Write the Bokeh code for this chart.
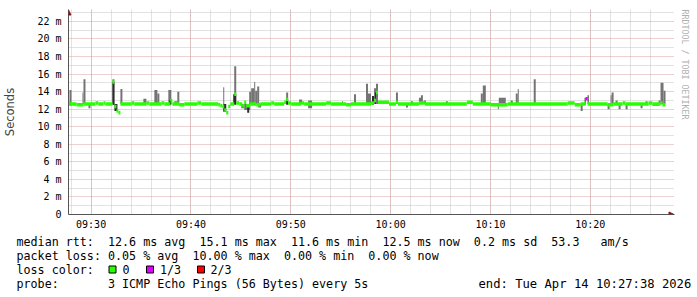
from datetime import datetime, timedelta
from bokeh.plotting import figure
from bokeh.layouts import column, row
from bokeh.models import Range1d, FixedTicker, DatetimeTickFormatter, Arrow, NormalHead, Title
from bokeh.core.properties import value
from bokeh.embed import file_html
from bokeh.resources import INLINE

# ---------------- data ----------------
window_start = "2026-04-14 09:27:44"
window_seconds = 3642

median_sec = [0, 48, 90, 162, 180, 210, 222, 264, 276, 288, 300, 312, 378, 396, 468, 486,
              558, 576, 612, 624, 666, 696, 774, 798, 900, 912, 924, 936, 948, 960, 972, 996,
              1008, 1026, 1044, 1056, 1068, 1092, 1128, 1152, 1218, 1236, 1296, 1308, 1320, 1338,
              1398, 1416, 1548, 1578, 1668, 1698, 1818, 1836, 1848, 1860, 1926, 1968, 1980, 2106,
              2142, 2394, 2430, 2538, 2640, 3000, 3042, 3078, 3108, 3120, 3240, 3276, 3330, 3348,
              3486, 3510, 3558, 3570, 3588]
median_ms = [12.6, 12.5, 12.6, 12.7, 12.6, 12.7, 12.6, 15.1, 12.3, 11.8, 11.6, 12.6, 12.7, 12.6, 12.7, 12.6,
             12.7, 12.6, 13.0, 12.6, 12.5, 12.6, 12.7, 12.6, 12.5, 12.4, 12.3, 11.9, 11.6, 12.3, 12.6, 13.7,
             12.7, 12.6, 12.4, 12.8, 12.4, 12.6, 12.5, 12.6, 12.7, 12.6, 12.8, 13.1, 12.7, 12.6,
             12.7, 12.6, 12.7, 12.6, 12.5, 12.6, 12.7, 13.0, 13.9, 12.8, 12.6, 12.8, 12.6, 12.7,
             12.6, 12.8, 12.6, 12.5, 12.6, 12.7, 12.5, 12.6, 13.2, 12.6, 12.5, 12.6, 12.7, 12.6,
             12.7, 12.6, 12.7, 12.5, 12.5]

loss_start_sec = [3108]
loss_end_sec = [3120]
loss_level = ["1/3"]

smoke_start = [6, 84, 90, 120, 264, 312, 450, 516, 534, 600, 636, 654, 666, 930, 996, 1038, 1056,
               1086, 1098, 1116, 1122, 1134, 1140, 1308, 1386, 1440, 1644, 1716, 1788, 1800, 1836,
               1848, 1968, 2028, 2058, 2106, 2118, 2136, 2268, 2478, 2490, 2580, 2586, 2658, 2688,
               2700, 2796, 3078, 3240, 3258, 3264, 3288, 3306, 3348, 3438, 3468, 3510, 3546, 3558, 3576]
smoke_end = [18, 90, 102, 132, 276, 324, 468, 534, 546, 618, 654, 666, 696, 936, 1008, 1056, 1092,
             1098, 1116, 1122, 1134, 1146, 1158, 1320, 1404, 1464, 1650, 1728, 1800, 1818, 1848,
             1860, 1980, 2040, 2070, 2124, 2130, 2148, 2280, 2490, 2508, 2586, 2628, 2670, 2700,
             2706, 2808, 3090, 3252, 3264, 3276, 3300, 3318, 3360, 3450, 3480, 3546, 3558, 3576, 3588]
smoke_lo = [12.4, 12.6, 12.6, 12.1, 12.5, 12.6, 12.6, 12.6, 12.6, 12.6, 12.6, 12.6, 12.4, 12.6, 12.6, 12.1, 11.9,
            12.6, 12.6, 12.6, 12.6, 12.6, 12.2, 12.6, 12.6, 12.1, 12.6, 12.6, 12.6, 12.6, 12.6,
            12.6, 12.6, 12.2, 12.6, 12.6, 12.6, 12.6, 12.6, 12.6, 12.6, 12.0, 12.6, 12.6, 12.6,
            12.6, 12.6, 11.8, 12.0, 12.6, 12.6, 12.6, 12.0, 12.0, 12.1, 12.6, 12.4, 12.6, 12.6, 12.6]
smoke_hi = [14.2, 13.9, 15.4, 12.6, 15.4, 14.3, 13.2, 14.2, 13.8, 14.2, 12.9, 14.0, 12.6, 14.5, 16.9, 12.6, 12.6,
            14.0, 14.4, 15.1, 14.1, 14.6, 12.6, 13.9, 13.1, 13.0, 12.9, 13.7, 14.9, 13.8, 14.4,
            14.9, 13.9, 12.6, 12.9, 13.3, 13.6, 13.0, 12.9, 13.8, 14.7, 12.6, 13.3, 13.0, 13.8,
            14.3, 15.4, 12.6, 12.6, 13.6, 13.9, 13.0, 12.6, 12.6, 12.6, 12.9, 12.6, 13.0, 15.0, 14.1]

dark_start = [264, 276, 606, 930, 990, 1074, 1308, 1824, 1842, 3102, 3120]
dark_end = [276, 294, 618, 948, 1008, 1086, 1320, 1836, 1848, 3108, 3126]
dark_lo = [12.5, 11.8, 12.5, 11.7, 12.5, 11.6, 12.5, 12.5, 12.6, 12.5, 12.6]
dark_hi = [15.1, 12.6, 13.0, 12.6, 13.7, 12.5, 13.1, 13.5, 13.9, 13.3, 13.6]

y_ticks = [0, 2, 4, 6, 8, 10, 12, 14, 16, 18, 20, 22]
y_tick_labels = ["0", "2 m", "4 m", "6 m", "8 m", "10 m", "12 m", "14 m", "16 m", "18 m", "20 m", "22 m"]
x_tick_times = ["09:30", "09:40", "09:50", "10:00", "10:10", "10:20"]

loss_labels = ["0", "1/3", "2/3"]

legend_lines = [
    "median rtt:  12.6 ms avg  15.1 ms max  11.6 ms min  12.5 ms now  0.2 ms sd  53.3   am/s",
    "packet loss: 0.05 % avg  10.00 % max  0.00 % min  0.00 % now",
    "loss color:",
    "probe:       3 ICMP Echo Pings (56 Bytes) every 5s",
]
end_text = "end: Tue Apr 14 10:27:38 2026"
watermark = "RRDTOOL / TOBI OETIKER"
y_title = "Seconds"

# ---------------- styles ----------------
LOSS_COLORS = {"0": "#26ff00", "1/3": "#dd00ff", "2/3": "#ff0000"}
SMOKE = "#747474"
SMOKE_DARK = "#2c2c2c"
AXIS = "#555555"
ARROW = "#8b1010"
MGRID = "#dba0a0"
GRID = "#c4c4c4"
MONO = "DejaVu Sans Mono"
BAND = 0.2

EPOCH = datetime(1970, 1, 1)
t_start = datetime.strptime(window_start, "%Y-%m-%d %H:%M:%S")


def ms(dt):
    return (dt - EPOCH).total_seconds() * 1000.0


def sec_to_ms(s):
    return ms(t_start + timedelta(seconds=s))


t0 = ms(t_start)
t1 = sec_to_ms(window_seconds)

W, H = 697, 232
FL, FR, FT, FB = 67, 674, 9, 215
PX_PER_UNIT = 194 / 22.0
y_top = (FB - FT) / PX_PER_UNIT

p = figure(width=W, height=H, x_axis_type="datetime", output_backend="svg",
           toolbar_location=None, x_range=Range1d(t0, t1), y_range=Range1d(0, y_top),
           min_border_left=FL, min_border_right=W - FR, min_border_top=FT, min_border_bottom=H - FB)
p.background_fill_color = "white"
p.border_fill_color = "white"
p.outline_line_color = None

p.quad(left=[sec_to_ms(s) for s in smoke_start], right=[sec_to_ms(s) for s in smoke_end],
       bottom=smoke_lo, top=smoke_hi, fill_color=SMOKE, line_color=None)
p.quad(left=[sec_to_ms(s) for s in dark_start], right=[sec_to_ms(s) for s in dark_end],
       bottom=dark_lo, top=dark_hi, fill_color=SMOKE_DARK, line_color=None)

ml, mr, mb, mt, mc = [], [], [], [], []
for i in range(len(median_sec) - 1):
    s0, s1, v = median_sec[i], median_sec[i + 1], median_ms[i]
    col = LOSS_COLORS["0"]
    for ls, le, lv in zip(loss_start_sec, loss_end_sec, loss_level):
        if s0 >= ls and s1 <= le:
            col = LOSS_COLORS[lv]
    ml.append(sec_to_ms(s0)); mr.append(sec_to_ms(s1))
    mb.append(v - BAND); mt.append(v + BAND); mc.append(col)
p.quad(left=ml, right=mr, bottom=mb, top=mt, fill_color=mc, line_color=None)

day = window_start[:11]
xt = [ms(datetime.strptime(day + t, "%Y-%m-%d %H:%M")) for t in x_tick_times]
x_minor = [ms(datetime.strptime(day + "09:28", "%Y-%m-%d %H:%M") + timedelta(minutes=2 * k))
           for k in range(30)]
p.xaxis.ticker = FixedTicker(ticks=xt, minor_ticks=x_minor)
p.xaxis.formatter = DatetimeTickFormatter(minutes="%H:%M", hourmin="%H:%M", hours="%H:%M",
                                          minsec="%H:%M", seconds="%H:%M")
p.yaxis.ticker = FixedTicker(ticks=y_ticks, minor_ticks=[t + 1 for t in y_ticks])
p.yaxis.major_label_overrides = dict(zip(y_ticks, y_tick_labels))

for ax in (p.xaxis[0], p.yaxis[0]):
    ax.axis_line_color = AXIS
    ax.axis_line_width = 1
    ax.major_tick_line_color = None
    ax.minor_tick_line_color = None
    ax.major_tick_out = 0
    ax.major_tick_in = 0
    ax.minor_tick_out = 0
    ax.minor_tick_in = 0
    ax.major_label_text_font = MONO
    ax.major_label_text_font_size = "10px"
    ax.major_label_text_color = "black"
p.xaxis.major_label_standoff = 4
p.yaxis.major_label_standoff = 7
p.yaxis.axis_label = y_title
p.yaxis.axis_label_text_font = "DejaVu Sans"
p.yaxis.axis_label_text_font_size = "11.5px"
p.yaxis.axis_label_text_font_style = "normal"
p.yaxis.axis_label_standoff = 17

for g in (p.xgrid[0], p.ygrid[0]):
    g.grid_line_color = MGRID
    g.grid_line_dash = "1 1"
    g.minor_grid_line_color = GRID
    g.minor_grid_line_dash = "1 1"

# axis arrows (inside the frame edges)
px_x = (t1 - t0) / (FR - FL)
px_y = 1.0 / PX_PER_UNIT
p.add_layout(Arrow(end=NormalHead(size=5, fill_color=ARROW, line_color=ARROW),
                   x_start=t1 - 6.5 * px_x, y_start=0, x_end=t1 - 0.5 * px_x, y_end=0,
                   line_color=AXIS, line_width=1))
p.add_layout(Arrow(end=NormalHead(size=5, fill_color=ARROW, line_color=ARROW),
                   x_start=t0, y_start=y_top - 5 * px_y, x_end=t0, y_end=y_top - 0.5 * px_y,
                   line_color=AXIS, line_width=1))

# vertical watermark on the right
p.add_layout(Title(text=watermark, align="left", text_font=MONO, text_font_size="8.3px",
                   text_font_style="normal", text_color="#b0b0b0", standoff=11, offset=0), "right")

# ---------------- legend panel ----------------
LH = 65
q = figure(width=W, height=LH, output_backend="svg", toolbar_location=None,
           x_range=Range1d(0, W), y_range=Range1d(LH, 0),
           x_axis_location=None, y_axis_location=None, min_border=0)
q.grid.visible = False
q.outline_line_color = None
q.background_fill_color = "white"
q.border_fill_color = "white"

NB = "\u00a0"
rows_y = [9, 23, 37, 51]
q.text(x=[16] * 4, y=rows_y, text=[s.replace(" ", NB) for s in legend_lines], text_font=value(MONO),
       text_font_size="11.7px", text_baseline="middle", text_align="left", text_color="black")
q.text(x=[478], y=[rows_y[3]], text=[end_text.replace(" ", NB)], text_font=value(MONO),
       text_font_size="12.2px", text_baseline="middle", text_align="left", text_color="black")

box_left = [108.5, 146.0, 197.0]
label_left = [122.0, 159.5, 210.0]
q.quad(left=box_left, right=[b + 7 for b in box_left], top=[33.5] * 3, bottom=[40.5] * 3,
       fill_color=[LOSS_COLORS[k] for k in loss_labels], line_color="black", line_width=1)
q.text(x=label_left, y=[rows_y[2]] * 3, text=loss_labels, text_font=value(MONO),
       text_font_size="11.7px", text_baseline="middle", text_align="left", text_color="black")

layout = column(p, row(q))
open("out.html", "w").write(file_html(layout, INLINE))
